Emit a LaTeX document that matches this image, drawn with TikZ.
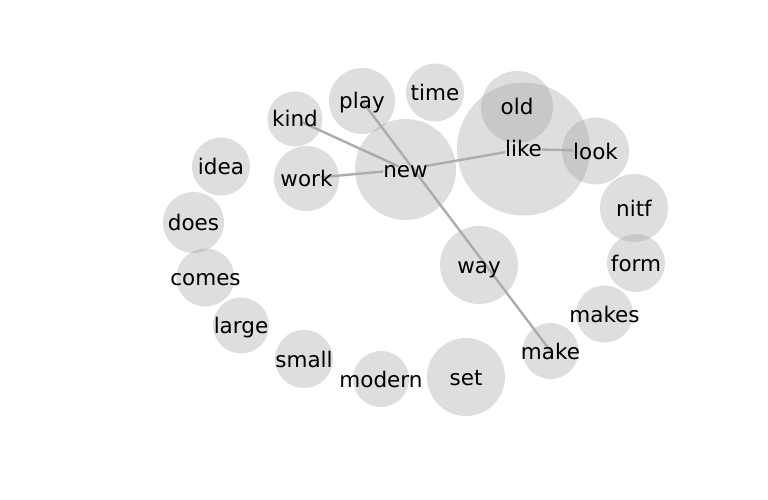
\documentclass[tikz,border=0pt]{standalone}
\usepackage{fontspec}
\setmainfont{DejaVu Sans}
\definecolor{bubblegray}{RGB}{156,156,156}
\definecolor{edgegray}{RGB}{172,172,172}
\newcommand\bubtext[1]{\raisebox{-8pt}[3pt][3pt]{#1}}
\pgfdeclarelayer{bubbles}
\pgfdeclarelayer{links}
\pgfsetlayers{bubbles,links,main}
\tikzset{
  bubble/.style={circle, fill=bubblegray, fill opacity=0.333, draw=none, inner sep=0pt},
  word/.style={inner sep=0pt, font=\fontsize{21.5}{24}\selectfont, text=black},
  link/.style={draw=edgegray, line width=2.4pt}
}
\begin{document}
\begin{tikzpicture}[x=1pt, y=-1pt]
\useasboundingbox (0,0) rectangle (768,500);
\begin{pgfonlayer}{bubbles}
\node[bubble, minimum size=55pt]  (kind-b)   at (295,119)   {};
\node[bubble, minimum size=66pt]  (play-b)   at (362,101)   {};
\node[bubble, minimum size=58pt]  (time-b)   at (435,92.5)  {};
\node[bubble, minimum size=101pt] (new-b)    at (405.5,169.5) {};
\node[bubble, minimum size=65pt]  (work-b)   at (306.5,178.5) {};
\node[bubble, minimum size=133pt] (like-b)   at (523.5,149) {};
\node[bubble, minimum size=72pt]  (old-b)    at (517,107)   {};
\node[bubble, minimum size=67pt]  (look-b)   at (595.5,151) {};
\node[bubble, minimum size=68pt]  (nitf-b)   at (634,208)   {};
\node[bubble, minimum size=58pt]  (form-b)   at (636,263)   {};
\node[bubble, minimum size=78pt]  (way-b)    at (479,265)   {};
\node[bubble, minimum size=58pt]  (idea-b)   at (221,166.5) {};
\node[bubble, minimum size=61pt]  (does-b)   at (193.5,222.5) {};
\node[bubble, minimum size=58pt]  (comes-b)  at (205.5,277.5) {};
\node[bubble, minimum size=56pt]  (large-b)  at (241,325.5) {};
\node[bubble, minimum size=58pt]  (small-b)  at (304,359)   {};
\node[bubble, minimum size=56pt]  (modern-b) at (381,379)   {};
\node[bubble, minimum size=78pt]  (set-b)    at (466,377)   {};
\node[bubble, minimum size=56pt]  (make-b)   at (550.5,351) {};
\node[bubble, minimum size=57pt]  (makes-b)  at (604.5,314) {};
\end{pgfonlayer}
% words
\node[word] (kind)   at (kind-b)   {\bubtext{kind}};
\node[word] (play)   at (play-b)   {\bubtext{play}};
\node[word] (time)   at (time-b)   {\bubtext{time}};
\node[word] (new)    at (new-b)    {\bubtext{new}};
\node[word] (work)   at (work-b)   {\bubtext{work}};
\node[word] (like)   at (like-b)   {\bubtext{like}};
\node[word] (old)    at (old-b)    {\bubtext{old}};
\node[word] (look)   at (look-b)   {\bubtext{look}};
\node[word] (nitf)   at (nitf-b)   {\bubtext{nitf}};
\node[word] (form)   at (form-b)   {\bubtext{form}};
\node[word] (way)    at (way-b)    {\bubtext{way}};
\node[word] (idea)   at (idea-b)   {\bubtext{idea}};
\node[word] (does)   at (does-b)   {\bubtext{does}};
\node[word] (comes)  at (comes-b)  {\bubtext{comes}};
\node[word] (large)  at (large-b)  {\bubtext{large}};
\node[word] (small)  at (small-b)  {\bubtext{small}};
\node[word] (modern) at (modern-b) {\bubtext{modern}};
\node[word] (set)    at (set-b)    {\bubtext{set}};
\node[word] (make)   at (make-b)   {\bubtext{make}};
\node[word] (makes)  at (makes-b)  {\bubtext{makes}};
% links
\begin{pgfonlayer}{links}
\draw[link] (kind) -- (new);
\draw[link, shorten <=-12pt] (work) -- (new);
\draw[link] (new) -- (like);
\draw[link] (like) -- (look);
\draw[link, shorten <=-4pt, shorten >=-4pt] (play) -- (make);
\end{pgfonlayer}
\end{tikzpicture}
\end{document}
